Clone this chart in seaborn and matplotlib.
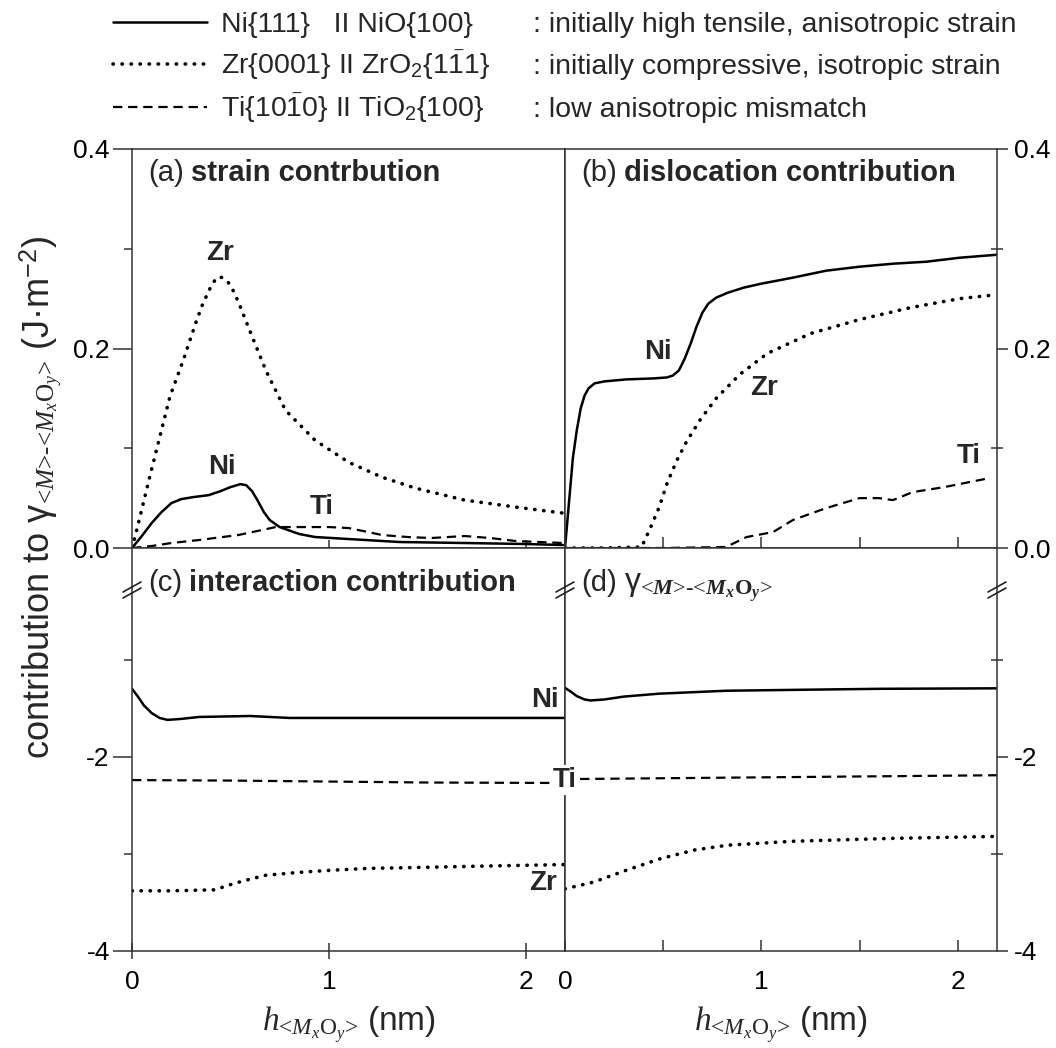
import matplotlib
matplotlib.use("Agg")
import matplotlib.pyplot as plt
import seaborn as sns
from matplotlib.lines import Line2D
from matplotlib.ticker import FixedLocator, FormatStrFormatter

# ---------------- data (thickness h in nm, energies in J/m^2) ----------------
# (a) strain contribution
strain_ni_x = [0, 0.05, 0.10, 0.15, 0.20, 0.25, 0.31, 0.39, 0.45, 0.50, 0.55, 0.58, 0.61, 0.64, 0.67, 0.70, 0.75, 0.85, 0.93, 1.10, 1.36, 1.69, 2.00, 2.19]
strain_ni_y = [0, 0.012, 0.025, 0.036, 0.045, 0.049, 0.051, 0.053, 0.057, 0.061, 0.064, 0.063, 0.057, 0.047, 0.036, 0.028, 0.021, 0.014, 0.011, 0.009, 0.006, 0.005, 0.004, 0.003]
strain_zr_x = [0, 0.024, 0.091, 0.193, 0.26, 0.328, 0.36, 0.396, 0.42, 0.44, 0.46, 0.49, 0.52, 0.55, 0.59, 0.68, 0.78, 0.93, 1.10, 1.27, 1.44, 1.69, 1.95, 2.19]
strain_zr_y = [0, 0.018, 0.072, 0.152, 0.188, 0.228, 0.245, 0.260, 0.268, 0.272, 0.271, 0.266, 0.256, 0.242, 0.222, 0.178, 0.138, 0.108, 0.086, 0.071, 0.060, 0.048, 0.041, 0.035]
strain_ti_x = [0, 0.10, 0.20, 0.34, 0.54, 0.66, 0.73, 0.85, 1.00, 1.10, 1.20, 1.27, 1.40, 1.52, 1.69, 1.82, 1.95, 2.19]
strain_ti_y = [0, 0.002, 0.005, 0.008, 0.013, 0.018, 0.021, 0.021, 0.021, 0.020, 0.016, 0.013, 0.011, 0.010, 0.012, 0.010, 0.007, 0.005]

# (b) dislocation contribution
disl_ni_x = [0, 0.02, 0.04, 0.06, 0.08, 0.10, 0.12, 0.15, 0.20, 0.31, 0.45, 0.52, 0.55, 0.58, 0.61, 0.64, 0.67, 0.70, 0.73, 0.77, 0.83, 0.91, 1.00, 1.16, 1.33, 1.50, 1.67, 1.84, 2.01, 2.20]
disl_ni_y = [0, 0.045, 0.090, 0.118, 0.140, 0.153, 0.160, 0.165, 0.167, 0.169, 0.170, 0.171, 0.173, 0.178, 0.190, 0.205, 0.222, 0.236, 0.245, 0.251, 0.256, 0.261, 0.265, 0.271, 0.278, 0.282, 0.285, 0.287, 0.291, 0.294]
disl_zr_x = [0, 0.20, 0.39, 0.43, 0.48, 0.52, 0.57, 0.62, 0.69, 0.77, 0.89, 1.03, 1.25, 1.50, 1.76, 2.01, 2.20]
disl_zr_y = [0, 0, 0.001, 0.018, 0.041, 0.065, 0.088, 0.107, 0.129, 0.150, 0.174, 0.195, 0.215, 0.229, 0.241, 0.250, 0.254]
disl_ti_x = [0, 0.50, 0.82, 0.925, 1.06, 1.16, 1.33, 1.50, 1.60, 1.67, 1.77, 1.93, 2.16]
disl_ti_y = [0, 0, 0.001, 0.011, 0.016, 0.028, 0.040, 0.050, 0.050, 0.048, 0.056, 0.061, 0.070]

# (c) interaction contribution
inter_ni_x = [0, 0.03, 0.06, 0.10, 0.14, 0.18, 0.25, 0.34, 0.60, 0.80, 1.20, 1.60, 2.20]
inter_ni_y = [-1.30, -1.38, -1.47, -1.55, -1.60, -1.62, -1.61, -1.59, -1.58, -1.60, -1.60, -1.60, -1.60]
inter_ti_x = [0, 0.50, 1.00, 1.50, 2.20]
inter_ti_y = [-2.24, -2.245, -2.255, -2.265, -2.27]
inter_zr_x = [0, 0.20, 0.42, 0.51, 0.60, 0.68, 0.85, 1.00, 1.19, 1.52, 1.80, 2.20]
inter_zr_y = [-3.38, -3.38, -3.37, -3.31, -3.26, -3.22, -3.19, -3.17, -3.15, -3.137, -3.125, -3.11]

# (d) interface energy
total_ni_x = [0, 0.03, 0.06, 0.10, 0.13, 0.20, 0.30, 0.48, 0.82, 1.20, 1.60, 2.20]
total_ni_y = [-1.29, -1.33, -1.375, -1.41, -1.42, -1.41, -1.38, -1.35, -1.32, -1.31, -1.30, -1.295]
total_ti_x = [0, 1.10, 2.20]
total_ti_y = [-2.23, -2.21, -2.19]
total_zr_x = [0, 0.146, 0.31, 0.485, 0.66, 0.83, 1.16, 1.67, 2.20]
total_zr_y = [-3.36, -3.29, -3.17, -3.05, -2.96, -2.91, -2.87, -2.84, -2.82]

legend_labels = [
    "Ni{111}   II NiO{100}",
    r"Zr{0001} II ZrO$_\mathsf{2}${1$\bar{\mathsf{1}}$1}",
    r"Ti{10$\bar{\mathsf{1}}$0} II TiO$_\mathsf{2}${100}",
]
legend_notes = [
    ": initially high tensile, anisotropic strain",
    ": initially compressive, isotropic strain",
    ": low anisotropic mismatch",
]

# ---------------- style ----------------
sns.set_style("ticks")
rc = {
    "font.family": ["Liberation Sans", "DejaVu Sans"],
    "mathtext.fontset": "custom",
    "mathtext.rm": "Liberation Serif",
    "mathtext.it": "Liberation Serif:italic",
    "mathtext.bf": "Liberation Serif:bold",
    "mathtext.sf": "Liberation Sans",
    "axes.unicode_minus": False,
    "axes.edgecolor": "#333333",
    "axes.linewidth": 1.1,
    "xtick.color": "#333333",
    "ytick.color": "#333333",
    "xtick.labelcolor": "black",
    "ytick.labelcolor": "black",
}
if "mathtext.bfit" in plt.rcParams:
    rc["mathtext.bfit"] = "Liberation Serif:italic:bold"
plt.rcParams.update(rc)

SOLID = dict(color="black", linewidth=1.8, linestyle="-")
DOT = dict(color="black", linewidth=2.6, linestyle=(0, (0.1, 2.4)), dash_capstyle="round")
DASH = dict(color="black", linewidth=1.6, linestyle=(0, (4.2, 2.6)))

W, H = 1056, 1048
fig = plt.figure(figsize=(W / 100, H / 100), dpi=100)
fig.patch.set_facecolor("white")

xl, xm, xr = 132 / W, 565 / W, 997 / W
yt, ym, yb = 1 - 149 / H, 1 - 548 / H, 1 - 951 / H
ax_a = fig.add_axes([xl, ym, xm - xl, yt - ym])
ax_b = fig.add_axes([xm, ym, xr - xm, yt - ym])
ax_c = fig.add_axes([xl, yb, xm - xl, ym - yb])
ax_d = fig.add_axes([xm, yb, xr - xm, ym - yb])


def draw(ax, x, y, style):
    sns.lineplot(x=x, y=y, ax=ax, estimator=None, sort=False, legend=False, **style)


draw(ax_a, strain_ni_x, strain_ni_y, SOLID)
draw(ax_a, strain_zr_x, strain_zr_y, DOT)
draw(ax_a, strain_ti_x, strain_ti_y, DASH)
draw(ax_b, disl_ni_x, disl_ni_y, SOLID)
draw(ax_b, disl_zr_x, disl_zr_y, DOT)
draw(ax_b, disl_ti_x, disl_ti_y, DASH)
draw(ax_c, inter_ni_x, inter_ni_y, SOLID)
draw(ax_c, inter_zr_x, inter_zr_y, DOT)
draw(ax_c, inter_ti_x, inter_ti_y, DASH)
draw(ax_d, total_ni_x, total_ni_y, SOLID)
draw(ax_d, total_zr_x, total_zr_y, DOT)
draw(ax_d, total_ti_x, total_ti_y, DASH)

for ax in (ax_a, ax_b, ax_c, ax_d):
    ax.set_xlim(0, 2.2)
    ax.set_xlabel("")
    ax.set_ylabel("")
    for sp in ax.spines.values():
        sp.set_visible(True)
for ax in (ax_a, ax_b):
    ax.set_ylim(0, 0.4)
    ax.yaxis.set_major_locator(FixedLocator([0.0, 0.2, 0.4]))
    ax.yaxis.set_minor_locator(FixedLocator([0.1, 0.3]))
    ax.yaxis.set_major_formatter(FormatStrFormatter("%.1f"))
for ax in (ax_c, ax_d):
    ax.set_ylim(-4, 0.15)
    ax.yaxis.set_major_locator(FixedLocator([-4, -2]))
    ax.yaxis.set_minor_locator(FixedLocator([-3, -1]))
    ax.yaxis.set_major_formatter(FormatStrFormatter("%d"))
    ax.xaxis.set_major_locator(FixedLocator([0, 1, 2]))

TL = 19
# upper-left
ax_a.tick_params(axis="y", which="major", left=True, right=False, direction="out", length=14, width=1.1, labelsize=TL, pad=2)
ax_a.tick_params(axis="y", which="minor", left=True, right=False, direction="out", length=6, width=1.1)
ax_a.xaxis.set_major_locator(FixedLocator([1, 2]))
ax_a.tick_params(axis="x", which="major", bottom=True, top=False, direction="inout", length=12, width=1.1, labelbottom=False)
# upper-right
ax_b.yaxis.tick_right()
ax_b.tick_params(axis="y", which="major", left=False, right=True, labelleft=False, labelright=True, direction="out", length=8, width=1.1, labelsize=TL, pad=4)
ax_b.tick_params(axis="y", which="minor", left=False, right=True, direction="inout", length=8, width=1.1)
ax_b.xaxis.set_major_locator(FixedLocator([0.5, 1, 1.5, 2]))
ax_b.tick_params(axis="x", which="major", bottom=True, top=False, direction="in", length=8, width=1.1, labelbottom=False)
# lower-left
ax_c.tick_params(axis="y", which="major", left=True, right=False, direction="out", length=14, width=1.1, labelsize=TL, pad=2)
ax_c.tick_params(axis="y", which="minor", left=True, right=False, direction="out", length=6, width=1.1)
ax_c.tick_params(axis="x", which="major", bottom=True, top=False, direction="inout", length=12, width=1.1, labelsize=TL, pad=8)
# lower-right
ax_d.yaxis.tick_right()
ax_d.tick_params(axis="y", which="major", left=False, right=True, labelleft=False, labelright=True, direction="out", length=8, width=1.1, labelsize=TL, pad=4)
ax_d.tick_params(axis="y", which="minor", left=False, right=True, direction="inout", length=8, width=1.1)
ax_d.xaxis.set_minor_locator(FixedLocator([0.5, 1.5]))
ax_d.tick_params(axis="x", which="both", bottom=True, top=False, direction="in", length=8, width=1.1, labelsize=TL, pad=14)

# panel titles
TF = 21


def title(ax, tag, body, y, weight="bold", size=TF, math=False):
    t = ax.text(0.037, y, tag, transform=ax.transAxes, fontsize=TF, ha="left", va="center")
    if math:
        # align the body's baseline with that of the tag
        ax.annotate(body, xy=(1, 0), xycoords=t, xytext=(5, 4), textcoords="offset points",
                    fontsize=size, fontweight=weight, ha="left", va="baseline")
    else:
        ax.annotate(body, xy=(1, 0), xycoords=t, xytext=(5, 0), textcoords="offset points",
                    fontsize=size, fontweight=weight, ha="left", va="bottom")


title(ax_a, "(a)", "strain contrbution", 0.94)
title(ax_b, "(b)", "dislocation contribution", 0.94)
title(ax_c, "(c)", "interaction contribution", 0.913)
title(ax_d, "(d)",
      r"γ$_{\text{<}\mathbfit{M}\text{>-<}\mathbfit{M}_{\mathbfit{x}}\mathbf{O}_{\mathbfit{y}}\text{>}}$",
      0.913, weight="normal", size=23, math=True)

# curve labels
LB = dict(fontsize=20, fontweight="bold", ha="center", va="center")
ax_a.text(0.447, 0.296, "Zr", **LB)
ax_a.text(0.455, 0.0815, "Ni", **LB)
ax_a.text(0.963, 0.041, "Ti", **LB)
ax_b.text(0.474, 0.196, "Ni", **LB)
ax_b.text(1.015, 0.160, "Zr", **LB)
ax_b.text(2.054, 0.092, "Ti", **LB)
ax_c.text(2.096, -1.412, "Ni", **LB)
ax_c.text(2.086, -3.30, "Zr", **LB)
ax_d.text(0.0, -2.237, "Ti", zorder=6, clip_on=False,
          bbox=dict(facecolor="white", edgecolor="none", pad=1.5), **LB)

# axis labels
fig.text(0.038, 0.525,
         r"contribution to γ$_{\text{<}M\text{>-<}M_x\mathrm{O}_y\text{>}}$ (J·m$^{\mathsf{-2}}$)",
         rotation=90, fontsize=26, ha="center", va="center")
for ax in (ax_c, ax_d):
    ax.set_xlabel(r"$h_{\text{<}M_x\mathrm{O}_y\text{>}}$ (nm)", fontsize=24, labelpad=7)

# axis-break marks on the vertical axes
for X in (132, 565, 997):
    for dy in (-3, 3):
        Y = 590 + dy
        fig.add_artist(Line2D([(X - 9) / W, (X + 9) / W], [1 - (Y + 5) / H, 1 - (Y - 5) / H],
                              color="#222222", linewidth=1.2))

# legend
handles = ax_a.lines[:3]
leg = fig.legend(handles, legend_labels, loc="upper left", bbox_to_anchor=(113 / W, 1 - 12 / H),
                 frameon=False, fontsize=20.5, handlelength=3.3, handletextpad=0.5,
                 labelspacing=0.35, borderpad=0, borderaxespad=0)
fig.canvas.draw()
for txt, note in zip(leg.get_texts(), legend_notes):
    bx, by = txt.get_transform().transform(txt.get_position())
    fig.text(533 / W, by / fig.bbox.height, note, fontsize=20.5, ha="left", va="baseline")

fig.savefig("out.png", dpi=100, facecolor="white")
